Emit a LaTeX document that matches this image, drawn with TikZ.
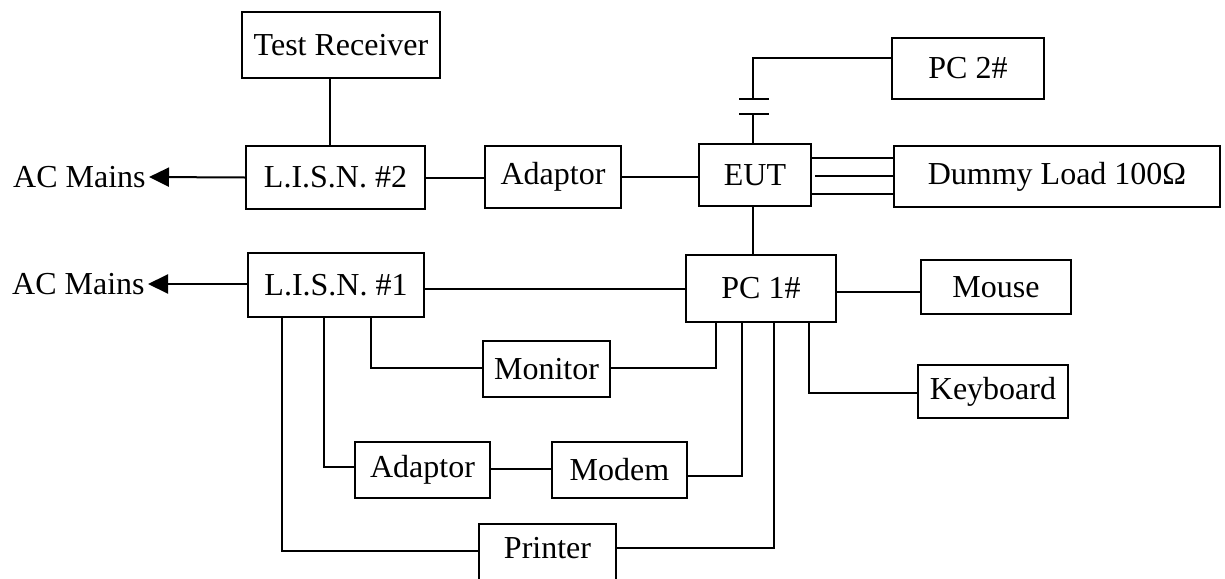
\documentclass[tikz,border=0pt]{standalone}
\usepackage{fontspec}
\setmainfont{Liberation Serif}
\usetikzlibrary{arrows.meta}
\tikzset{
  box/.style={draw, line width=1pt, inner sep=0pt, font=\fontsize{16}{19}\selectfont},
  lbl/.style={inner sep=1.5pt, font=\fontsize{16}{19}\selectfont},
  wire/.style={line width=1pt},
  arr/.style={line width=1pt, -{Triangle[length=10pt,width=9.5pt]}}
}
\begin{document}
\begin{tikzpicture}[x=0.5pt,y=-0.5pt]
\useasboundingbox (0,0) rectangle (1225,578);
\clip (0,0) rectangle (1225,578);
\fill[white] (0,0) rectangle (1225,578);
% boxes
\node[box, minimum width=99pt, minimum height=33pt] (tr) at (341,45) {Test Receiver};
\node[box, minimum width=89.5pt, minimum height=31.5pt] (lisn2) at (335.5,177.5) {L.I.S.N. \#2};
\node[box, minimum width=68pt, minimum height=31pt] (ad1) at (553,177) {Adaptor};
\node[box, minimum width=56pt, minimum height=31pt] (eut) at (755,175) {EUT};
\node[box, minimum width=76pt, minimum height=30.5pt] (pc2) at (968,68.5) {PC 2\#};
\node[box, minimum width=163pt, minimum height=30.5pt] (dummy) at (1057,176.5) {Dummy Load 100Ω};
\node[box, minimum width=88pt, minimum height=32pt] (lisn1) at (336,285) {L.I.S.N. \#1};
\node[box, minimum width=75pt, minimum height=33.5pt] (pc1) at (761,288.5) {PC 1\#};
\node[box, minimum width=75pt, minimum height=27pt] (mouse) at (996,287) {Mouse};
\node[box, minimum width=75pt, minimum height=26.5pt] (kbd) at (993,391.5) {Keyboard};
\node[box, minimum width=63.5pt, minimum height=28pt] (mon) at (546.5,369) {Monitor};
\node[box, minimum width=67.5pt, minimum height=28pt] (ad2) at (422.5,470) {Adaptor};
\node[box, minimum width=67.5pt, minimum height=28pt] (modem) at (619.5,470) {Modem};
\node[box, draw=none, minimum width=67.5pt, minimum height=23pt] (prn) at (547.5,548) {Printer};
\draw[wire] ([yshift=-40pt]prn.north west) -- (prn.north west) -- (prn.north east) -- ([yshift=-40pt]prn.north east);
% AC mains labels
\node[lbl, anchor=east] (ac2) at (149,177) {AC Mains};
\node[lbl, anchor=east] (ac1) at (148,284) {AC Mains};
% column coordinates
\coordinate (c330) at (330,0);
\coordinate (c753) at (753,0);
\coordinate (c809) at (809,0);
\coordinate (c716) at (716,0);
\coordinate (c742) at (742,0);
\coordinate (c774) at (774,0);
\coordinate (c371) at (371,0);
\coordinate (c324) at (324,0);
\coordinate (c282) at (282,0);
\coordinate (r58) at (0,58);
\coordinate (r99) at (0,99);
\coordinate (r114) at (0,114);
\coordinate (r158) at (0,158);
\coordinate (r176) at (0,176);
\coordinate (r194) at (0,194);
\coordinate (r289) at (0,289);
\coordinate (r292) at (0,292);
\coordinate (r393) at (0,393);
\coordinate (r368) at (0,368);
\coordinate (r467) at (0,467);
\coordinate (r469) at (0,469);
\coordinate (r476) at (0,476);
\coordinate (r551) at (0,551);
\coordinate (r548) at (0,548);
% arrows to AC mains
\draw[arr] (lisn2.west) -- (ac2.east);
\draw[arr] (lisn1.west |- ac1.east) -- (ac1.east);
% test receiver
\draw[wire] (tr.south -| c330) -- (lisn2.north -| c330);
% top row
\draw[wire] (lisn2.east) -- (ad1.west |- lisn2.east);
\draw[wire] (ad1.east) -- (eut.west |- ad1.east);
% capacitor to PC2
\draw[wire] (eut.north -| c753) -- (c753 |- r114);
\draw[wire] ([xshift=-7pt]c753 |- r114) -- ([xshift=8pt]c753 |- r114);
\draw[wire] ([xshift=-7pt]c753 |- r99) -- ([xshift=8pt]c753 |- r99);
\draw[wire] (c753 |- r99) -- (c753 |- r58) -- (pc2.west |- r58);
% dummy load
\draw[wire] (eut.east |- r158) -- (dummy.west |- r158);
\draw[wire] ([xshift=1.5pt]eut.east |- r176) -- (dummy.west |- r176);
\draw[wire] (eut.east |- r194) -- (dummy.west |- r194);
% EUT to PC1
\draw[wire] (eut.south -| c753) -- (pc1.north -| c753);
% LISN1 to PC1
\draw[wire] (lisn1.east |- r289) -- (pc1.west |- r289);
% PC1 to mouse
\draw[wire] (pc1.east |- r292) -- (mouse.west |- r292);
% keyboard
\draw[wire] (pc1.south -| c809) -- (c809 |- r393) -- (kbd.west |- r393);
% monitor
\draw[wire] (lisn1.south -| c371) -- (c371 |- r368) -- (mon.west |- r368);
\draw[wire] (mon.east |- r368) -- (c716 |- r368) -- (pc1.south -| c716);
% adaptor / modem
\draw[wire] (lisn1.south -| c324) -- (c324 |- r467) -- (ad2.west |- r467);
\draw[wire] (ad2.east |- r469) -- (modem.west |- r469);
\draw[wire] (modem.east |- r476) -- (c742 |- r476) -- (pc1.south -| c742);
% printer
\draw[wire] (lisn1.south -| c282) -- (c282 |- r551) -- (prn.west |- r551);
\draw[wire] (prn.east |- r548) -- (c774 |- r548) -- (pc1.south -| c774);
\end{tikzpicture}
\end{document}
